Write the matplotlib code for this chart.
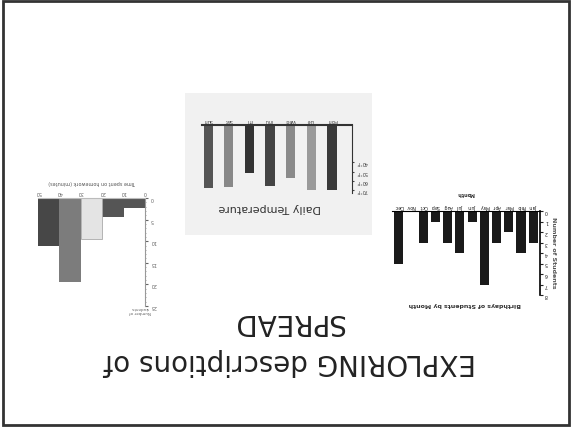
import matplotlib
matplotlib.use("Agg")
from matplotlib import pyplot as plt
from matplotlib.patches import Rectangle

# The slide was scanned upside down, so everything is drawn turned by 180 degrees
W, H = 573, 433

title_lines = ["EXPLORING descriptions of", "SPREAD"]

# Daily temperature chart (middle)
days = ["Mon", "Tue", "Wed", "Thu", "Fri", "Sat", "Sun"]
temps = [70, 70, 57, 65, 51, 67, 68]
day_colors = ["#3a3a3a", "#9a9a9a", "#8a8a8a", "#444444", "#333333", "#888888", "#555555"]
temp_ticks = [40, 50, 60, 70]
temp_labels = ["40°F", "50°F", "60°F", "70°F"]

# Birthdays chart (right)
months = ["Jan", "Feb", "Mar", "Apr", "May", "Jun", "Jul", "Aug", "Sep", "Oct", "Nov", "Dec"]
birthdays = [3, 4, 2, 3, 7, 1, 4, 3, 1, 3, 0, 5]
student_ticks = [0, 1, 2, 3, 4, 5, 6, 7, 8]

# Homework histogram (left)
bin_edges = [0, 10, 20, 30, 40, 50]
counts = [2.3, 4.5, 9.5, 19.5, 11]
bin_colors = ["#555555", "#555555", "#e4e4e4", "#7c7c7c", "#474747"]
count_ticks = [0, 5, 10, 15, 20, 25]


def box(x0, y0, x1, y1):
    # pixel box (image coords, y down) -> figure fraction rect
    return [x0 / W, 1 - y1 / H, (x1 - x0) / W, (y1 - y0) / H]


def put(x, y, s, **kw):
    fig.text(x / W, 1 - y / H, s, ha="center", va="center", rotation=180, **kw)


fig = plt.figure(figsize=(W / 100, H / 100), dpi=100)

# slide border
fig.add_artist(Rectangle((3 / W, 1 - 425 / H), 566 / W, 424 / H, transform=fig.transFigure,
                         fill=False, lw=2, ec="#333333"))

# title
put(290, 362, title_lines[0], fontsize=20, color="#222222")
put(288, 322, title_lines[1], fontsize=20, color="#222222")

# ---- middle: Daily Temperature
fig.add_artist(Rectangle((185 / W, 1 - 235 / H), 187 / W, 142 / H, transform=fig.transFigure,
                         fc="#f1f1f1", ec="none", zorder=0))
ax1 = fig.add_axes(box(202, 125, 352, 193))
ax1.set_facecolor("none")
ax1.bar(range(len(days)), temps, width=0.45, color=day_colors)
ax1.set_xlim(6.3, -0.97)
ax1.set_ylim(73, 0)
ax1.xaxis.tick_top()
ax1.yaxis.tick_right()
ax1.set_xticks(range(len(days)), days)
ax1.set_yticks(temp_ticks, temp_labels)
ax1.tick_params(labelrotation=180, labelsize=3.5, length=1.5, pad=1.5, colors="#444444")
ax1.tick_params(axis="x", length=0)
for s in ["left", "bottom"]:
    ax1.spines[s].set_visible(False)
for s in ["top", "right"]:
    ax1.spines[s].set_color("#333333")
ax1.spines["top"].set_linewidth(1.5)
put(270, 208, "Daily Temperature", fontsize=8, color="#333333")

# ---- right: Birthdays of Students by Month
ax2 = fig.add_axes(box(392, 211, 540, 295))
ax2.bar(range(len(months)), birthdays, width=0.75, color="#1a1a1a")
ax2.set_xlim(11.55, -0.55)
ax2.set_ylim(8, 0)
ax2.xaxis.tick_top()
ax2.yaxis.tick_right()
ax2.set_xticks(range(len(months)), months)
ax2.set_yticks(student_ticks)
ax2.tick_params(labelrotation=180, labelsize=3.5, length=2, pad=1.5, colors="#222222")
ax2.tick_params(axis="x", length=0)
for s in ["left", "bottom"]:
    ax2.spines[s].set_visible(False)
ax2.spines["right"].set_linewidth(1.2)
put(466, 193, "Month", fontsize=3.5, weight="bold", color="#333333")
put(465, 305, "Birthdays of Students by Month", fontsize=4.5, weight="bold", color="#333333")
fig.text(554 / W, 1 - 253 / H, "Number of Students", ha="center", va="center",
         rotation=270, fontsize=4.5, weight="bold", color="#555555")

# ---- left: homework histogram
ax3 = fig.add_axes(box(38, 198, 145, 306))
ax3.bar(bin_edges[:-1], counts, width=10, align="edge", color=bin_colors,
        edgecolor=["none", "none", "#aaaaaa", "none", "none"], linewidth=0.6)
ax3.set_xlim(50, 0)
ax3.set_ylim(25, 0)
ax3.xaxis.tick_top()
ax3.yaxis.tick_right()
ax3.set_xticks(bin_edges)
ax3.set_yticks(count_ticks)
ax3.minorticks_on()
ax3.tick_params(labelrotation=180, labelsize=3.5, length=2, pad=2, colors="#666666")
ax3.tick_params(which="minor", length=1, colors="#999999")
ax3.tick_params(axis="x", which="both", length=0)
for s in ["left", "bottom"]:
    ax3.spines[s].set_visible(False)
ax3.spines["right"].set_color("#999999")
ax3.spines["top"].set_color("#bbbbbb")
put(92, 182, "Time spent on homework (minutes)", fontsize=3.5, color="#555555")
put(140, 310, "Number of\nstudents", fontsize=3, color="#666666")

fig.savefig("out.png", dpi=100)
